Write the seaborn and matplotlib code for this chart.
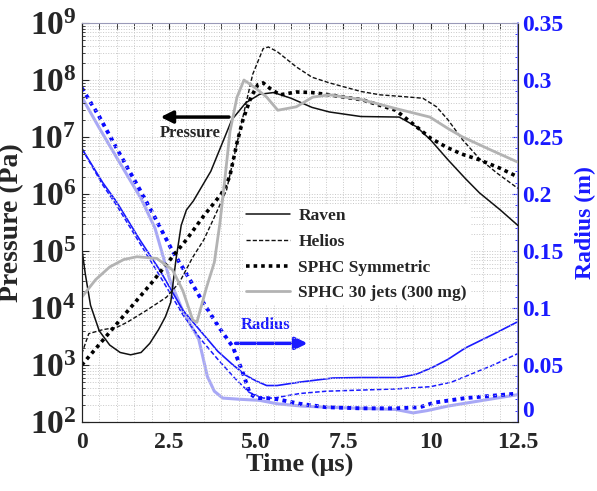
import numpy as np
import seaborn as sns
import matplotlib.pyplot as plt
from matplotlib.ticker import MultipleLocator, FixedLocator, FuncFormatter, LogLocator, NullFormatter

# ---- pressure (Pa) vs time (us) ----
t_raven_p = [0, 0.1, 0.25, 0.5, 0.8, 1.1, 1.4, 1.7, 1.95, 2.2, 2.4, 2.55, 2.7, 2.85, 3.0, 3.2,
             3.7, 4.3, 4.7, 5.1, 5.5, 6.0, 6.6, 7.1, 8.0, 9.1, 9.6, 10.0, 10.5, 11.0, 11.4, 12.0, 12.5]
p_raven = [1.12e5, 3.98e4, 1.12e4, 3.98e3, 2.24e3, 1.66e3, 1.51e3, 1.66e3, 2.4e3, 4.17e3, 7.08e3,
           1.26e4, 7.08e4, 2.82e5, 5.25e5, 7.59e5, 2.51e6, 2.0e7, 3.98e7, 5.62e7, 6.03e7, 4.79e7,
           3.31e7, 2.75e7, 2.29e7, 2.24e7, 1.51e7, 8.9e6, 3.98e6, 1.86e6, 1.05e6, 5.25e5, 2.82e5]

t_helios_p = [0, 0.2, 0.6, 1.0, 1.3, 1.86, 2.43, 2.8, 3.18, 3.5, 3.76, 4.15, 4.6, 4.9, 5.2, 5.35,
              5.6, 6.15, 6.6, 7.1, 8.0, 8.55, 9.2, 9.78, 10.17, 10.5, 10.92, 11.4, 11.9, 12.5]
p_helios = [1.58e3, 3.55e3, 4.17e3, 4.57e3, 5.62e3, 9.12e3, 1.55e4, 2.82e4, 7.76e4, 1.58e5, 3.47e5,
            1.17e6, 2.0e7, 1.26e8, 3.55e8, 3.8e8, 3.16e8, 1.7e8, 1.12e8, 8.91e7, 6.31e7, 5.5e7,
            5.13e7, 4.79e7, 3.39e7, 2.0e7, 8.91e6, 4.17e6, 2.34e6, 1.26e6]

t_sym_p = [0, 0.5, 1.0, 1.5, 2.0, 2.6, 3.0, 3.5, 4.0, 4.24, 4.45, 4.62, 4.85, 5.05, 5.2, 5.4, 5.68,
           6.15, 6.6, 7.1, 8.06, 9.0, 9.6, 10.0, 10.46, 10.9, 11.4, 12.0, 12.5]
p_sym = [1.0e3, 2.29e3, 5.25e3, 1.2e4, 2.75e4, 7.94e4, 1.58e5, 4.17e5, 1.0e6, 2.0e6, 7.94e6, 2.0e7,
         5.01e7, 8.32e7, 8.91e7, 7.08e7, 5.5e7, 6.17e7, 6.03e7, 5.5e7, 4.47e7, 2.95e7, 1.51e7,
         9.55e6, 6.61e6, 5.01e6, 3.98e6, 2.82e6, 2.0e6]

t_jets_p = [0, 0.4, 0.8, 1.2, 1.58, 2.15, 2.6, 2.9, 3.18, 3.3, 3.58, 3.8, 3.96, 4.1, 4.25, 4.45,
            4.65, 5.0, 5.3, 5.62, 6.15, 6.62, 7.1, 8.0, 9.0, 9.98, 10.5, 10.92, 11.7, 12.5]
p_jets = [1.55e4, 3.16e4, 5.25e4, 7.08e4, 7.94e4, 7.41e4, 4.68e4, 2.0e4, 6.17e3, 5.62e3, 2.34e4,
          6.31e4, 3.09e5, 1.78e6, 1.26e7, 5.01e7, 1.0e8, 7.08e7, 5.01e7, 2.95e7, 3.39e7, 5.01e7,
          5.5e7, 4.57e7, 3.16e7, 2.24e7, 1.41e7, 1.0e7, 6.03e6, 3.63e6]

# ---- radius (m) vs time (us) ----
t_raven_r = [0, 0.6, 1.0, 1.66, 2.24, 2.9, 3.4, 3.9, 4.3, 4.7, 5.0, 5.3, 5.6, 6.25, 7.2, 8.0, 9.1,
             9.6, 10.06, 10.5, 11.0, 11.8, 12.5]
r_raven = [0.24, 0.21, 0.193, 0.16, 0.133, 0.098, 0.08, 0.062, 0.051, 0.041, 0.036, 0.032, 0.032,
           0.035, 0.0386, 0.039, 0.039, 0.042, 0.048, 0.055, 0.065, 0.077, 0.088]

t_helios_r = [0, 0.6, 1.0, 1.7, 2.24, 2.9, 3.4, 3.9, 4.4, 4.8, 5.2, 5.5, 6.25, 7.0, 8.0, 9.0, 10.0,
              10.6, 11.0, 11.8, 12.5]
r_helios = [0.24, 0.208, 0.19, 0.155, 0.128, 0.094, 0.073, 0.055, 0.038, 0.026, 0.021, 0.021,
            0.025, 0.027, 0.028, 0.029, 0.031, 0.035, 0.04, 0.05, 0.06]

t_sym_r = [0, 0.5, 1.0, 1.66, 2.0, 2.6, 3.0, 3.38, 3.58, 4.0, 4.33, 4.62, 4.82, 5.0, 5.3, 5.6, 6.25,
           7.0, 8.0, 9.0, 9.7, 10.1, 11.0, 12.5]
r_sym = [0.293, 0.268, 0.24, 0.204, 0.185, 0.15, 0.13, 0.11, 0.1, 0.08, 0.066, 0.043, 0.025, 0.021,
         0.021, 0.02, 0.016, 0.013, 0.012, 0.012, 0.013, 0.017, 0.021, 0.025]

t_jets_r = [0, 0.5, 1.0, 1.7, 2.1, 2.52, 2.9, 3.35, 3.6, 3.8, 4.04, 4.5, 5.1, 5.6, 6.3, 7.0, 8.0,
            9.0, 9.5, 9.9, 10.5, 11.5, 12.5]
r_jets = [0.285, 0.258, 0.232, 0.196, 0.17, 0.125, 0.097, 0.073, 0.04, 0.027, 0.021, 0.02, 0.019,
          0.016, 0.014, 0.013, 0.012, 0.011, 0.008, 0.01, 0.014, 0.019, 0.024]

labels = ['Raven', 'Helios', 'SPHC Symmetric', 'SPHC 30 jets (300 mg)']
x_ticks = [0, 2.5, 5.0, 7.5, 10, 12.5]
x_ticklabels = ['0', '2.5', '5.0', '7.5', '10', '12.5']
r_ticks = [0, 0.05, 0.1, 0.15, 0.2, 0.25, 0.3, 0.35]
r_ticklabels = ['0', '0.05', '0.1', '0.15', '0.2', '0.25', '0.3', '0.35']

sns.set_style('white')
plt.rcParams['font.family'] = ['Liberation Serif', 'DejaVu Serif']
plt.rcParams['font.weight'] = 'bold'
plt.rcParams['mathtext.fontset'] = 'custom'
plt.rcParams['mathtext.bf'] = 'Liberation Serif:bold'
plt.rcParams['mathtext.rm'] = 'Liberation Serif:bold'

BLUE = '#1a1aff'

fig = plt.figure(figsize=(5.97, 4.91), dpi=100)
ax = fig.add_axes([0.137, 0.1405, 0.7303, 0.8126])
ax2 = ax.twinx()

# pressure curves
sns.lineplot(x=t_raven_p, y=p_raven, ax=ax, color='#111111', lw=1.1, label=labels[0])
sns.lineplot(x=t_helios_p, y=p_helios, ax=ax, color='#111111', lw=1.0, label=labels[1])
ax.lines[-1].set_dashes((3, 1.5))
sns.lineplot(x=t_sym_p, y=p_sym, ax=ax, color='#000000', lw=2.6, label=labels[2])
ax.lines[-1].set_dashes((1, 1.1))
sns.lineplot(x=t_jets_p, y=p_jets, ax=ax, color='#b3b3b3', lw=2.0, label=labels[3])

# radius curves
sns.lineplot(x=t_jets_r, y=r_jets, ax=ax2, color='#a8a8f6', lw=2.2)
sns.lineplot(x=t_raven_r, y=r_raven, ax=ax2, color=BLUE, lw=1.2)
sns.lineplot(x=t_helios_r, y=r_helios, ax=ax2, color=BLUE, lw=1.1)
ax2.lines[-1].set_dashes((3, 1.5))
sns.lineplot(x=t_sym_r, y=r_sym, ax=ax2, color='#0a0aff', lw=2.8)
ax2.lines[-1].set_dashes((1, 1.1))

ax.set_yscale('log')
ax.set_ylim(1e2, 1e9)
ax.set_xlim(0, 12.5)
ax2.set_ylim(0, 0.35)

ax.xaxis.set_major_locator(FixedLocator(x_ticks))
ax.set_xticklabels(x_ticklabels, fontsize=17, fontweight='bold')
ax.xaxis.set_minor_locator(MultipleLocator(0.5))
ax.yaxis.set_major_locator(LogLocator(base=10, numticks=20))
ax.yaxis.set_minor_locator(LogLocator(base=10, subs=np.arange(2, 10), numticks=20))
ax.yaxis.set_minor_formatter(NullFormatter())
ax.yaxis.set_major_formatter(FuncFormatter(lambda v, p: r'$\mathbf{10^{%d}}$' % round(np.log10(v))))
ax.tick_params(axis='y', which='major', labelsize=24, direction='in', length=5, pad=4)
ax.tick_params(axis='y', which='minor', direction='in', length=2.5)
ax.tick_params(axis='x', which='both', direction='in', top=True, length=4, pad=7)

ax2.yaxis.set_major_locator(FixedLocator(r_ticks))
ax2.set_yticklabels(r_ticklabels, fontsize=17, fontweight='bold', color=BLUE)
ax2.get_yticklabels()[0].set_va('bottom')
ax2.yaxis.set_minor_locator(MultipleLocator(0.01))
ax2.tick_params(axis='y', which='both', direction='in', colors=BLUE, length=4, pad=3)
ax2.tick_params(axis='y', which='minor', length=2)

ax.grid(which='both', ls=':', color='#c8c8c8', lw=0.7)
ax2.grid(False)
for s in ['left', 'bottom']:
    ax.spines[s].set_color('#222222')
ax.spines['top'].set_color('#9a9ab8')
ax2.spines['top'].set_visible(False)
ax2.spines['right'].set_color('#8080ff')
ax2.spines['right'].set_linewidth(1.2)

ax.set_xlabel('Time (\u03bcs)', fontsize=19, fontweight='bold', labelpad=0)
ax.set_ylabel('Pressure (Pa)', fontsize=20, fontweight='bold', labelpad=4)
ax2.set_ylabel('Radius (m)', fontsize=17, fontweight='bold', color=BLUE, labelpad=8)

# annotations
ax.annotate('', xy=(2.18, 2.24e7), xytext=(4.3, 2.24e7),
            arrowprops=dict(arrowstyle='-|>', color='k', lw=2.5, mutation_scale=18))
ax.text(3.1, 1.17e7, 'Pressure', fontsize=12, fontweight='bold', ha='center', va='center')
ax2.annotate('', xy=(6.55, 0.069), xytext=(4.33, 0.069),
             arrowprops=dict(arrowstyle='-|>', color=BLUE, lw=2.5, mutation_scale=18))
ax2.text(5.28, 0.085, 'Radius', fontsize=12, fontweight='bold', ha='center', va='center', color=BLUE)

leg = ax.legend(loc='upper left', bbox_to_anchor=(234 / 597, 1 - 196 / 491),
                bbox_transform=fig.transFigure, frameon=True, fontsize=12.5,
                handlelength=2.5, handletextpad=0.5, labelspacing=0.55, borderpad=0.2)
leg.get_frame().set_edgecolor('none')
leg.get_frame().set_facecolor('white')
leg.get_frame().set_alpha(1)
ax.set_zorder(ax2.get_zorder() + 1)
ax.patch.set_visible(False)

plt.savefig('out.png', dpi=100)
